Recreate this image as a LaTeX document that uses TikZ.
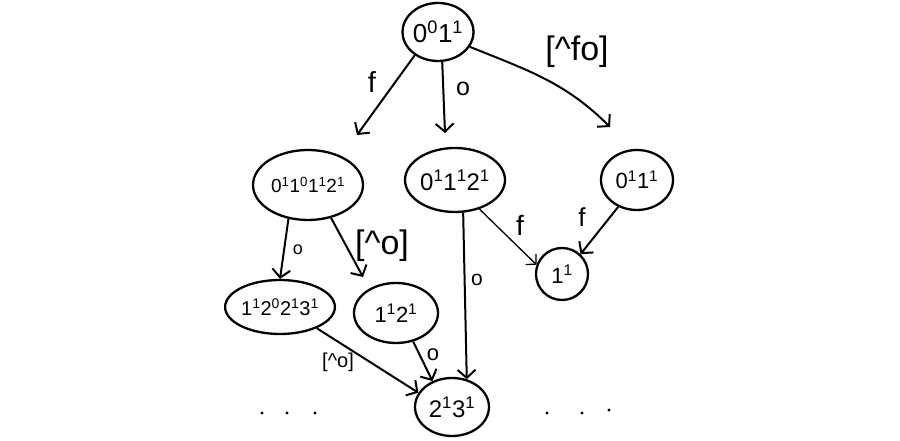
\documentclass[tikz,border=0pt]{standalone}
\usepackage{fontspec}
\setmainfont{Liberation Sans}
\usetikzlibrary{shapes.geometric,arrows.meta}
\begin{document}
\begin{tikzpicture}[x=1pt,y=1pt,
  st/.style={draw, ellipse, line width=2.3pt, inner sep=0pt, font=\fontsize{#1}{#1}\selectfont},
  st/.default=22,
  ed/.style={line width=2pt, -{Straight Barb[length=8pt,width=18pt,line width=2pt]}},
  thin ed/.style={line width=1.3pt, -{Straight Barb[length=7pt,width=15pt,line width=1.3pt]}},
  lb/.style={inner sep=0pt, font=\fontsize{#1}{#1}\selectfont},
  lb/.default=26]
\useasboundingbox (0,0) rectangle (900,441);
% states
\node[st=26, minimum width=70pt, minimum height=58pt] (top) at (438,409) {0\textsuperscript{0}1\textsuperscript{1}};
\node[st=19, minimum width=110pt, minimum height=70pt] (A) at (308,256) {0\textsuperscript{1}1\textsuperscript{0}1\textsuperscript{1}2\textsuperscript{1}};
\node[st=24, minimum width=100pt, minimum height=64pt] (B) at (455,261) {0\textsuperscript{1}1\textsuperscript{1}2\textsuperscript{1}};
\node[st=22, minimum width=72pt, minimum height=60pt] (C) at (637,261) {0\textsuperscript{1}1\textsuperscript{1}};
\node[st=22, minimum width=52pt, minimum height=52pt] (D) at (562,167) {1\textsuperscript{1}};
\node[st=20, minimum width=104pt, minimum height=54pt] (E) at (280,134) {1\textsuperscript{1}2\textsuperscript{0}2\textsuperscript{1}3\textsuperscript{1}};
\node[st=22, minimum width=84pt, minimum height=60pt] (F) at (396,128) {1\textsuperscript{1}2\textsuperscript{1}};
\node[st=24, minimum width=74pt, minimum height=58pt] (G) at (452,34) {2\textsuperscript{1}3\textsuperscript{1}};
% free arrow ends
\coordinate (tA) at (357,306);
\coordinate (tB) at (445,308);
\coordinate (tC) at (610,314);
\coordinate (tF) at (363,164);
% edges
\draw[ed] (top.-135) -- (tA);
\draw[ed] (top.-82) -- (tB);
\draw[ed] (top.-25) to[out=-22,in=135] (tC);
\draw[ed] (A.-120) -- (E.north);
\draw[ed] (A.-55) -- (tF);
\draw[ed] (B.-76) -- (G.62);
\draw[thin ed] (B.-50) -- (D.160);
\draw[ed] (C.-125) -- (D.47);
\draw[ed] (E.-30) -- (G.157);
\draw[ed] (F.-59) -- (G.127);
% labels
\node[lb=29] (l1) at (372,359) {f};
\node[lb=25] (l2) at (463,352) {o};
\node[lb=34] (l3) at (577,389) {[\textasciicircum fo]};
\node[lb=18] (l4) at (298,191) {o};
\node[lb=34] (l5) at (382,195) {[\textasciicircum o]};
\node[lb=21] (l6) at (477,161) {o};
\node[lb=28] (l7) at (520,216) {f};
\node[lb=26] (l8) at (582,224) {f};
\node[lb=20] (l9) at (338,79) {[\textasciicircum o]};
\node[lb=22] (l10) at (433,86) {o};
% dots
\foreach \p in {(262,28),(287,28),(315,28),(547,28),(582,28),(609,31)}
  \fill \p circle (1.6pt);
\end{tikzpicture}
\end{document}
